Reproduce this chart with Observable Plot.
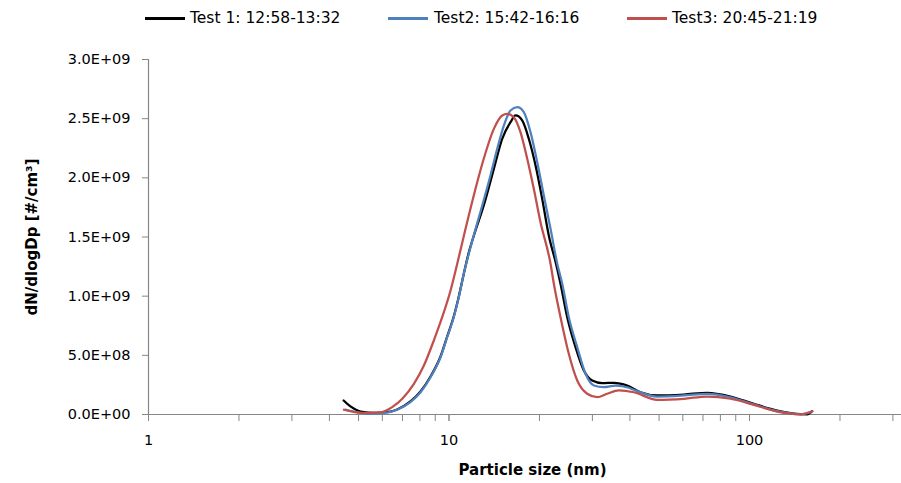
<!DOCTYPE html>
<html><head><meta charset="utf-8">
<script src="https://cdn.jsdelivr.net/npm/d3@7"></script>
<script src="https://cdn.jsdelivr.net/npm/@observablehq/plot@0.6"></script>
<style>
html,body{margin:0;padding:0;background:#fff;}
body{overflow:hidden;width:901px;height:483px;font-family:"DejaVu Sans",sans-serif;}
#legend{position:relative;height:40px;width:901px;}
.sw{position:absolute;height:2.5px;top:17px;}
.lt{position:absolute;top:8px;font-size:15.5px;line-height:20px;color:#000;white-space:nowrap;}
#chart svg{max-width:none;display:block;}
</style></head><body>
<div id="legend"></div>
<div id="chart"></div>
<script>
// Series
const names = ["Test 1: 12:58-13:32", "Test2: 15:42-16:16", "Test3: 20:45-21:19"];
const colors = ["#000000", "#4F81BD", "#C0504D"];

// Test 1 (black)
const sizes1 = [4.46, 4.70, 5.08, 5.69, 6.39, 6.72, 7.44, 8.04, 8.68, 9.37, 9.86, 10.37, 10.78, 11.20, 11.64, 12.09, 13.05, 14.10, 15.03, 16.02, 16.65, 17.52, 18.43, 19.41, 20.42, 21.48, 22.62, 23.50, 24.74, 26.36, 28.10, 29.96, 32.35, 35.36, 39.17, 43.38, 49.29, 60.45, 72.31, 86.47, 103.4, 123.7, 147.8, 155.6, 161.7];
const values1 = [1.18e8, 0.68e8, 0.25e8, 0.13e8, 0.25e8, 0.42e8, 1.10e8, 1.94e8, 3.21e8, 4.90e8, 6.59e8, 8.28e8, 9.97e8, 11.9e8, 13.7e8, 15.1e8, 17.66e8, 20.76e8, 23.30e8, 24.70e8, 25.27e8, 24.85e8, 23.30e8, 21.04e8, 18.23e8, 15.13e8, 12.9e8, 11.05e8, 8.22e8, 5.69e8, 3.72e8, 2.87e8, 2.65e8, 2.68e8, 2.45e8, 1.88e8, 1.61e8, 1.69e8, 1.83e8, 1.52e8, 0.90e8, 0.34e8, 0.03e8, 0.02e8, 0.28e8];

// Test2 (blue)
const sizes2 = [4.52, 5.08, 5.34, 6.05, 6.72, 7.44, 8.04, 8.68, 9.37, 9.86, 10.37, 10.78, 11.20, 12.09, 12.90, 13.74, 14.47, 15.22, 16.02, 16.87, 17.74, 18.67, 19.66, 20.68, 21.77, 22.92, 23.81, 25.04, 26.71, 28.47, 30.33, 32.74, 35.83, 39.66, 41.21, 49.29, 60.45, 72.31, 86.47, 103.4, 123.7, 147.8, 159.6];
const values2 = [0.42e8, 0.14e8, 0.06e8, 0.11e8, 0.40e8, 1.04e8, 1.88e8, 3.15e8, 4.84e8, 6.53e8, 8.22e8, 9.91e8, 11.89e8, 15.13e8, 17.66e8, 20.20e8, 22.45e8, 24.42e8, 25.69e8, 25.97e8, 25.55e8, 23.86e8, 21.32e8, 18.51e8, 15.69e8, 12.74e8, 11.05e8, 8.22e8, 5.69e8, 3.44e8, 2.45e8, 2.31e8, 2.45e8, 2.26e8, 2.09e8, 1.52e8, 1.61e8, 1.75e8, 1.46e8, 0.85e8, 0.28e8, 0.02e8, 0.19e8];

// Test3 (red)
const sizes3 = [4.47, 5.08, 5.92, 6.47, 6.99, 7.64, 8.25, 8.90, 9.49, 10.12, 10.65, 11.35, 12.09, 13.05, 14.10, 15.03, 15.62, 16.43, 17.29, 18.21, 19.15, 20.16, 21.77, 22.33, 23.50, 25.04, 26.71, 28.84, 31.13, 33.61, 36.73, 41.21, 49.29, 60.45, 72.31, 86.47, 103.4, 123.7, 147.8, 161.7];
const values3 = [0.40e8, 0.14e8, 0.19e8, 0.62e8, 1.33e8, 2.59e8, 4.14e8, 6.25e8, 8.22e8, 10.48e8, 12.74e8, 15.69e8, 18.51e8, 21.61e8, 24.14e8, 25.27e8, 25.41e8, 25.12e8, 23.86e8, 21.61e8, 19.07e8, 16.25e8, 12.74e8, 11.05e8, 8.22e8, 5.13e8, 2.87e8, 1.75e8, 1.46e8, 1.75e8, 2.03e8, 1.88e8, 1.24e8, 1.33e8, 1.52e8, 1.33e8, 0.82e8, 0.25e8, 0.02e8, 0.28e8];

// Axes
const yTicks = [0, 5e8, 1e9, 1.5e9, 2e9, 2.5e9, 3e9];
const xMajor = [1, 10, 100];
const xMinor = [1, 2, 3, 4, 5, 6, 7, 8, 9, 10, 20, 30, 40, 50, 60, 70, 80, 90, 100, 200, 300];
const xTitle = "Particle size (nm)";
const yTitle = "dN/dlogDp [#/cm³]";

const allSizes = [sizes1, sizes2, sizes3];
const allValues = [values1, values2, values3];
const data = [];
names.forEach((n, i) => allSizes[i].forEach((s, j) => data.push({series: n, size: s, value: allValues[i][j]})));

// Legend (HTML, above the SVG)
const legend = document.getElementById("legend");
const swX = [145, 388, 627];
const txX = [190, 434, 672];
names.forEach((n, i) => {
  const sw = document.createElement("div");
  sw.className = "sw";
  sw.style.left = swX[i] + "px";
  sw.style.width = "40px";
  sw.style.background = colors[i];
  legend.appendChild(sw);
  const t = document.createElement("div");
  t.className = "lt";
  t.style.left = txX[i] + "px";
  t.textContent = n;
  legend.appendChild(t);
});

const fmt = d => {
  const [m, e] = d.toExponential(1).split("e");
  return m + "E" + e[0] + e.slice(1).padStart(2, "0");
};

const chart = Plot.plot({
  width: 916,
  height: 443,
  marginLeft: 148,
  marginRight: 0,
  marginTop: 19,
  marginBottom: 69,
  style: {fontFamily: "'DejaVu Sans', sans-serif", fontSize: "14px", color: "#000", background: "#fff", maxWidth: "none", overflow: "visible"},
  x: {type: "log", domain: [1, 359.5]},
  y: {domain: [0, 3e9]},
  color: {domain: names, range: colors},
  marks: [
    Plot.ruleX([1], {stroke: "#868686", strokeWidth: 1.2}),
    Plot.ruleY([0], {stroke: "#868686", strokeWidth: 1.2}),
    Plot.axisY({ticks: yTicks, tickFormat: fmt, tickSize: 6, tickPadding: 12, stroke: "#868686", fontSize: 14.5, label: null}),
    Plot.axisX({ticks: xMinor, tickFormat: () => "", tickSize: 7, stroke: "#868686", label: null}),
    Plot.axisX({ticks: xMajor, tickFormat: d => String(d), tickSize: 7, tickPadding: 13, stroke: "#868686", fontSize: 14.5, label: null}),
    Plot.line(data, {x: "size", y: "value", z: "series", stroke: "series", strokeWidth: 2.25, curve: "monotone-x"}),
    Plot.text([xTitle], {frameAnchor: "bottom", dy: 56, textAnchor: "middle", lineAnchor: "middle", fontWeight: "bold", fontSize: 15}),
    Plot.text([yTitle], {frameAnchor: "left", dx: -116, rotate: -90, textAnchor: "middle", lineAnchor: "middle", fontWeight: "bold", fontSize: 15})
  ]
});
document.getElementById("chart").appendChild(chart);
</script>
</body></html>
